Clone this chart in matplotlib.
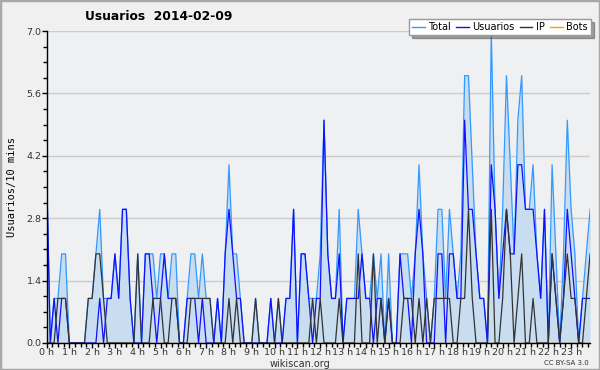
import numpy as np
import matplotlib
matplotlib.use("Agg")
import matplotlib.pyplot as plt
from matplotlib.patches import Rectangle

plt.rcParams["font.family"] = ["Liberation Sans Narrow", "DejaVu Sans"]

# Values per 10 minutes, 2014-02-09 (144 slots)
total = [4, 0, 1, 1, 2, 2, 0, 0, 0, 0, 0, 1, 1, 2, 3, 1, 1, 1, 2, 1,
         3, 3, 1, 0, 2, 0, 2, 2, 2, 1, 2, 2, 1, 2, 2, 0, 0, 1, 2, 2,
         1, 2, 1, 1, 0, 1, 0, 2, 4, 2, 2, 1, 0, 0, 0, 1, 0, 0, 0, 1,
         0, 1, 0, 1, 1, 3, 0, 2, 2, 1, 1, 1, 2, 5, 2, 1, 1, 3, 0, 1,
         1, 1, 3, 2, 1, 1, 2, 1, 2, 0, 2, 0, 0, 2, 2, 2, 1, 2, 4, 2,
         1, 0, 1, 3, 3, 1, 3, 2, 1, 2, 6, 6, 4, 2, 1, 1, 0, 7, 3, 1,
         3, 6, 4, 2, 5, 6, 3, 3, 4, 2, 1, 3, 0, 4, 2, 0, 2, 5, 3, 2,
         0, 1, 2, 3]
usuarios = [4, 0, 1, 0, 1, 1, 0, 0, 0, 0, 0, 0, 0, 0, 1, 0, 1, 1, 2, 1,
            3, 3, 1, 0, 0, 0, 2, 2, 1, 0, 1, 2, 1, 1, 1, 0, 0, 1, 1, 1,
            0, 1, 0, 0, 0, 1, 0, 2, 3, 2, 1, 1, 0, 0, 0, 0, 0, 0, 0, 1,
            0, 0, 0, 1, 1, 3, 0, 2, 2, 1, 0, 1, 1, 5, 2, 1, 1, 2, 0, 1,
            1, 1, 1, 2, 1, 1, 0, 1, 1, 0, 1, 0, 0, 2, 1, 1, 0, 2, 3, 2,
            0, 0, 0, 2, 2, 0, 2, 2, 1, 1, 5, 3, 3, 2, 1, 1, 0, 4, 3, 1,
            2, 3, 2, 2, 4, 4, 3, 3, 3, 2, 1, 3, 0, 2, 1, 0, 1, 3, 2, 1,
            0, 1, 1, 1]
ip = [0, 0, 0, 1, 1, 1, 0, 0, 0, 0, 0, 1, 1, 2, 2, 1, 0, 0, 0, 0,
      0, 0, 0, 0, 2, 0, 0, 0, 1, 1, 1, 0, 0, 1, 1, 0, 0, 0, 1, 1,
      1, 1, 1, 1, 0, 0, 0, 0, 1, 0, 1, 0, 0, 0, 0, 1, 0, 0, 0, 0,
      0, 1, 0, 0, 0, 0, 0, 0, 0, 0, 1, 0, 1, 0, 0, 0, 0, 1, 0, 0,
      0, 0, 2, 0, 0, 0, 2, 0, 1, 0, 1, 0, 0, 0, 1, 1, 1, 0, 1, 0,
      1, 0, 1, 1, 1, 1, 1, 0, 0, 1, 1, 3, 1, 0, 0, 0, 0, 3, 0, 0,
      1, 3, 2, 0, 1, 2, 0, 0, 1, 0, 0, 0, 0, 2, 1, 0, 1, 2, 1, 1,
      0, 0, 1, 2]
bots = [0] * 144

hour_labels = [f"{h} h" for h in range(24)]

x = np.arange(len(total))

fig = plt.figure(figsize=(6, 3.7), dpi=100)
fig.patch.set_facecolor("#f0f0f0")
fig.patches.append(Rectangle((0, 0), 1, 1, transform=fig.transFigure,
                             fill=False, edgecolor="#a8a8a8", lw=2.5))

ax = fig.add_axes([0.0775, 0.073, 0.906, 0.843])
ax.set_facecolor("#eef0f2")

# Grid
ax.set_yticks(np.arange(0, 7.01, 1.4))
ax.set_yticks(np.arange(0, 7.01, 0.35), minor=True)
ax.yaxis.grid(True, color="#cccccc", lw=1)
ax.set_axisbelow(True)

# Series
ax.fill_between(x, total, color="#c8ddf0", lw=0)
ax.plot(x, bots, color="#ff9900", lw=1)
ax.plot(x, total, color="#3399ff", lw=0.9)
ax.plot(x, usuarios, color="#1010ff", lw=0.9)
ax.plot(x, ip, color="#333333", lw=0.9)

ax.set_xlim(0, 143)
ax.set_ylim(0, 7)

ax.set_yticklabels([f"{v:.1f}" for v in np.arange(0, 7.01, 1.4)])
ax.set_xticks(np.arange(0, 144, 6))
ax.set_xticklabels(hour_labels)
ax.set_xticks(np.arange(0, 144, 1.5), minor=True)

ax.tick_params(axis="both", which="major", direction="out", length=3.5,
               width=1, labelsize=6.8, colors="black", labelcolor="#333333", pad=0)
ax.tick_params(axis="both", which="minor", direction="out", length=3, width=1)

for s in ["top", "right"]:
    ax.spines[s].set_visible(False)
for s in ["left", "bottom"]:
    ax.spines[s].set_color("black")
    ax.spines[s].set_linewidth(1)

ax.set_ylabel("Usuarios/10 mins", fontsize=7.5, family="DejaVu Sans Mono",
              labelpad=7)

# Title
fig.text(0.142, 0.955, "Usuarios  2014-02-09", fontsize=8.8,
         fontweight="bold", ha="left", va="center")

# Legend
handles = [
    plt.Line2D([], [], color="#3399ff", lw=1),
    plt.Line2D([], [], color="#1010ff", lw=1),
    plt.Line2D([], [], color="#333333", lw=1),
    plt.Line2D([], [], color="#ff9900", lw=1),
]
leg = fig.legend(handles, ["Total", "Usuarios", "IP", "Bots"], ncol=4,
                 loc="upper right", bbox_to_anchor=(0.985, 0.948),
                 fontsize=7, frameon=True, fancybox=False, shadow=True,
                 handlelength=1.3, handletextpad=0.4, columnspacing=0.5,
                 borderpad=0.3, borderaxespad=0)
leg.get_frame().set_edgecolor("#999999")
leg.get_frame().set_linewidth(1)

# Footer
fig.text(0.5, 0.016, "wikiscan.org", fontsize=7, ha="center",
         va="center", color="#333333")
fig.text(0.982, 0.02, "CC BY-SA 3.0", fontsize=5, ha="right",
         va="center", color="#333333")

fig.savefig("out.png", dpi=100, facecolor=fig.get_facecolor())
